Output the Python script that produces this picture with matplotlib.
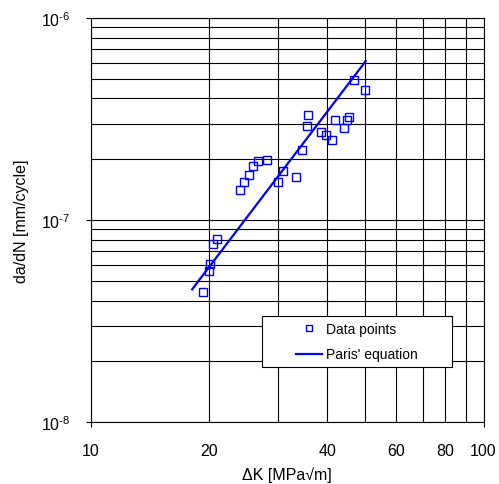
import numpy as np
import matplotlib.pyplot as plt
from matplotlib.patches import Rectangle
from matplotlib.ticker import LogLocator, FixedLocator, FixedFormatter, NullFormatter

plt.rc('font', family='Liberation Sans')
plt.rc('mathtext', fontset='custom', rm='Liberation Sans', it='Liberation Sans')

# data points
dK = [19.3, 20.0, 20.05, 20.4, 20.9, 23.95, 24.6, 25.3, 25.9, 26.6, 28.1, 30.0,
      30.9, 33.3, 34.5, 35.6, 35.8, 38.5, 39.8, 41.2, 41.8, 44.0, 45.0, 45.3,
      46.9, 49.8]
dadN = [4.42e-8, 5.61e-8, 6.04e-8, 7.63e-8, 8.11e-8, 1.41e-7, 1.54e-7, 1.67e-7,
        1.85e-7, 1.97e-7, 1.99e-7, 1.55e-7, 1.75e-7, 1.63e-7, 2.23e-7, 2.93e-7,
        3.32e-7, 2.73e-7, 2.64e-7, 2.50e-7, 3.13e-7, 2.86e-7, 3.13e-7, 3.25e-7,
        4.95e-7, 4.42e-7]

# Paris' equation da/dN = C * dK^m
C_paris = 2.8e-11
m_paris = 2.553
dK_range = [18.1, 50.1]

fig = plt.figure(figsize=(4.99, 4.85), dpi=100)
ax = fig.add_axes([0.1824, 0.1272, 0.7866, 0.8336])

ax.set_xscale('log')
ax.set_yscale('log')
ax.set_xlim(10, 100)
ax.set_ylim(1e-8, 1e-6)

ax.plot(dK, dadN, 's', ms=6, mfc='none', mec='#0000ff', mew=1.0,
        label='Data points', zorder=3)
K = np.array(dK_range)
ax.plot(K, C_paris*K**m_paris, '-', color='#0000ff', lw=1.6,
        label="Paris' equation", zorder=3)

# x ticks: decades with marks, 20/40/60/80 labels only
ax.xaxis.set_major_locator(FixedLocator([10, 100]))
ax.xaxis.set_major_formatter(FixedFormatter(['10', '100']))
ax.xaxis.set_minor_locator(FixedLocator([20, 30, 40, 50, 60, 70, 80, 90]))
ax.xaxis.set_minor_formatter(FixedFormatter(['20', '', '40', '', '60', '', '80', '']))

ax.yaxis.set_major_locator(FixedLocator([1e-8, 1e-7, 1e-6]))
ax.yaxis.set_major_formatter(FixedFormatter([r'10$^{\text{-}8}$', r'10$^{\text{-}7}$', r'10$^{\text{-}6}$']))
ax.yaxis.set_minor_locator(LogLocator(base=10, subs=np.arange(2, 10), numticks=20))
ax.yaxis.set_minor_formatter(NullFormatter())

ax.tick_params(which='major', direction='out', length=3.6, width=0.8, pad=11.5,
               labelsize=11.5, color='black')
ax.tick_params(which='minor', length=0, pad=15.1, labelsize=11.5)

ax.grid(True, which='both', color='black', lw=0.8)
ax.set_axisbelow(True)
for s in ax.spines.values():
    s.set_linewidth(0.8)
    s.set_color('black')

ax.set_xlabel('\u0394K [MPa\u221am]', fontsize=11.5, labelpad=6)
ax.set_ylabel('da/dN [mm/cycle]', fontsize=11.5, labelpad=8)

# legend box drawn separately so the entries sit centred inside a wide frame
ax.add_patch(Rectangle((0.4357, 0.137), 0.484, 0.126, transform=ax.transAxes,
                       facecolor='white', edgecolor='black', lw=0.8, zorder=4))
leg = ax.legend(loc='center', bbox_to_anchor=(0.6777, 0.1998), borderaxespad=0,
                fontsize=10, frameon=False,
                handlelength=1.9, handletextpad=0.3, labelspacing=0.85,
                borderpad=0.2, markerscale=0.8)
leg.set_zorder(5)

fig.savefig('out.png', dpi=100)
